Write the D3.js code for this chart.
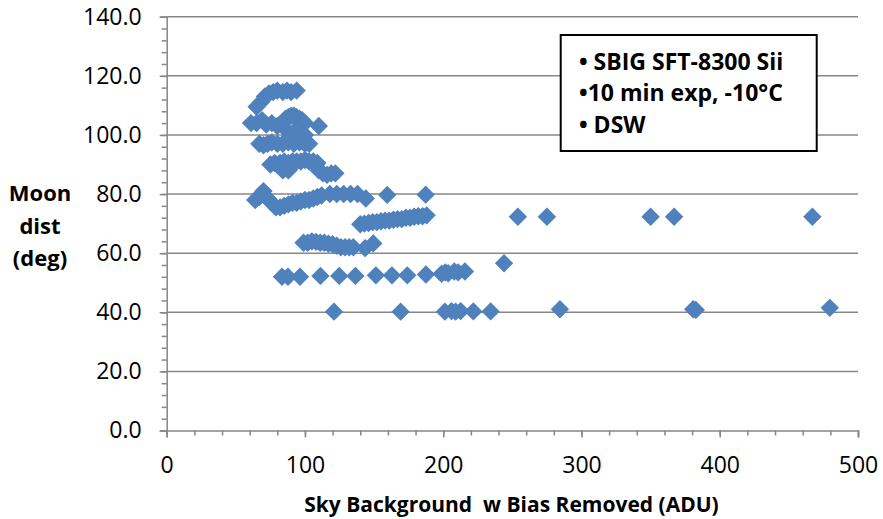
<!DOCTYPE html>
<html>
<head>
<meta charset="utf-8">
<script src="https://cdn.jsdelivr.net/npm/d3@7"></script>
<style>
  body { margin: 0; background: #fff; }
  text { font-family: "Open Sans", Lato, sans-serif; fill: #000; }
</style>
</head>
<body>
<svg id="chart" width="883" height="519"></svg>
<script>
// sky background (ADU) vs moon distance (deg)
let skyAdu = [
  65, 68, 71, 74, 77, 80, 84, 87, 90, 94,
  61, 65, 69, 72, 76, 80, 84, 86, 88, 90, 92, 94, 96, 98, 100, 88, 92, 96, 100, 110,
  67, 70, 73, 76, 80, 84, 88, 92, 96, 100, 103,
  75, 78, 82, 85, 88, 91, 94, 97, 100, 103, 106, 109, 84, 88,
  110, 113, 116, 119, 122,
  64, 67, 70, 73, 76, 79, 82, 85, 88, 91, 94, 97, 100, 103, 106, 109, 112,
  118, 123, 128, 133, 138, 144, 159.5, 187.3,
  140, 143, 146, 149, 152, 155, 158, 161, 164, 167, 170, 173, 176, 179, 182, 185, 188,
  254, 275, 350, 367, 467,
  99, 102, 105, 108, 111, 114, 117, 120, 123, 126, 129, 132, 135, 143.5, 149.4,
  244,
  83.4, 87.7, 96.4, 111.2, 124.8, 136.5, 151.3, 162.9, 174, 187.5, 198.8, 201.5, 203.6, 208, 210.8, 215.7,
  121, 169.2, 201.2, 206, 209, 212.6, 221.8, 234.3, 284.4, 380.8, 382.7, 479.6
];
let moonDist = [
  109.5, 111, 113, 114, 114.5, 115, 114.5, 115, 114.5, 115,
  104, 104, 105, 103.5, 104, 103, 104.5, 105.5, 106, 106.5, 106.5, 106, 105.5, 105, 104, 101, 101, 100.5, 100, 103,
  97, 96.5, 97, 97.5, 97, 97, 97.5, 97, 97.5, 97, 97,
  90, 90.5, 90.5, 91, 90.5, 91, 91, 91, 91.5, 91, 91, 90.5, 88, 88,
  88, 87, 86.5, 87, 87,
  78, 79, 81, 78.5, 77, 75.5, 75.5, 76, 76.5, 77, 77, 77.5, 78, 78, 78.5, 79, 79.5,
  80, 80, 80, 80, 80, 78.5, 79.7, 79.8,
  69.8, 70, 70.2, 70.5, 70.5, 70.8, 71, 71, 71.3, 71.5, 71.5, 72, 72, 72.3, 72.5, 72.5, 72.8,
  72.3, 72.3, 72.3, 72.3, 72.3,
  63.5, 63.5, 64, 63.8, 63.5, 63.5, 63.2, 63, 62.5, 62, 62, 62, 62, 61.7, 63.3,
  56.6,
  52, 52, 52, 52.3, 52.3, 52.3, 52.5, 52.5, 52.5, 52.8, 53, 53.5, 53.2, 53.8, 53.5, 53.8,
  40.2, 40.2, 40.2, 40.4, 40.2, 40.4, 40.3, 40.3, 41, 41, 40.8, 41.5
];

let xTicks = [0, 100, 200, 300, 400, 500];
let yTicks = [0, 20, 40, 60, 80, 100, 120, 140];
let yTitle = ['Moon', 'dist', '(deg)'];
let xTitle = 'Sky Background  w Bias Removed (ADU)';
let notes = ['• SBIG SFT-8300 Sii', '•10 min exp, -10°C', '• DSW'];

let svg = d3.select('#chart');

let x = d3.scaleLinear().domain([0, 500]).range([166.7, 858]),
    y = d3.scaleLinear().domain([0, 140]).range([430.5, 16.7]);

let gridColor = '#878787';

// gridlines
svg.append('g')
   .selectAll('line')
   .data(yTicks.slice(1))
   .join('line')
   .attr('x1', x(0)).attr('x2', x(500))
   .attr('y1', d => y(d)).attr('y2', d => y(d))
   .attr('stroke', gridColor)
   .attr('stroke-width', 1.5);

// minor ticks
svg.append('g')
   .attr('transform', `translate(${x(0)},0)`)
   .call(d3.axisLeft(y).tickValues(d3.range(0, 141, 4)).tickSize(5).tickFormat(''))
   .call(g => g.select('.domain').remove())
   .selectAll('line').attr('stroke', gridColor).attr('stroke-width', 1.5);

svg.append('g')
   .attr('transform', `translate(0,${y(0)})`)
   .call(d3.axisBottom(x).tickValues(d3.range(0, 501, 20)).tickSize(5).tickFormat(''))
   .call(g => g.select('.domain').remove())
   .selectAll('line').attr('stroke', gridColor).attr('stroke-width', 1.5);

// major axes
let yAxis = svg.append('g')
   .attr('transform', `translate(${x(0)},0)`)
   .call(d3.axisLeft(y).tickValues(yTicks).tickSize(7).tickPadding(18).tickFormat(d3.format('.1f')));

let xAxis = svg.append('g')
   .attr('transform', `translate(0,${y(0)})`)
   .call(d3.axisBottom(x).tickValues(xTicks).tickSize(7).tickPadding(19).tickFormat(d3.format('d')));

[yAxis, xAxis].forEach(function (g) {
  g.select('.domain').attr('stroke', gridColor).attr('stroke-width', 1.5);
  g.selectAll('.tick line').attr('stroke', gridColor).attr('stroke-width', 1.5);
  g.selectAll('.tick text')
   .attr('fill', '#000')
   .style('font-size', '23px')
   .style('font-family', '"Open Sans", Lato, sans-serif');
});

// points
let diamond = d3.symbol(d3.symbolSquare, 169);
svg.append('g')
   .selectAll('path')
   .data(skyAdu.map((v, i) => [v, moonDist[i]]))
   .join('path')
   .attr('d', diamond)
   .attr('transform', d => `translate(${x(d[0])},${y(d[1])}) rotate(45)`)
   .attr('fill', '#4F81BD');

// titles
svg.append('g')
   .selectAll('text')
   .data(yTitle)
   .join('text')
   .attr('x', 40)
   .attr('y', (d, i) => 201 + i * 32.5)
   .attr('text-anchor', 'middle')
   .style('font-size', '22px')
   .style('font-weight', 'bold')
   .text(d => d);

svg.append('text')
   .attr('x', 511.5)
   .attr('y', 512)
   .attr('text-anchor', 'middle')
   .attr('xml:space', 'preserve')
   .style('white-space', 'pre')
   .style('font-size', '21px')
   .style('font-weight', 'bold')
   .text(xTitle);

// note box
svg.append('rect')
   .attr('x', 560.7).attr('y', 35)
   .attr('width', 256).attr('height', 116)
   .attr('fill', '#fff')
   .attr('stroke', '#000')
   .attr('stroke-width', 2);

svg.append('g')
   .selectAll('text')
   .data(notes)
   .join('text')
   .attr('x', 579)
   .attr('y', (d, i) => 69.5 + i * 31.7)
   .attr('xml:space', 'preserve')
   .style('white-space', 'pre')
   .style('font-size', '23px')
   .style('font-weight', 'bold')
   .text(d => d);
</script>
</body>
</html>
